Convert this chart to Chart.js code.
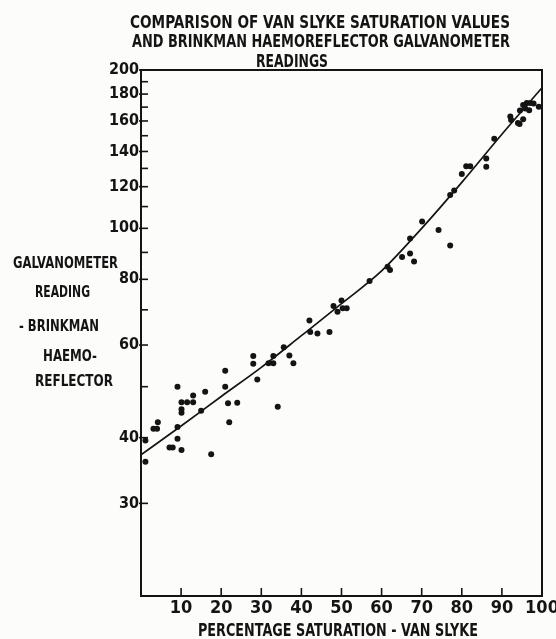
<!DOCTYPE html>
<html>
<head>
<meta charset="utf-8">
<script src="https://cdn.jsdelivr.net/npm/chart.js@4.4.1/dist/chart.umd.min.js"></script>
<style>
  html, body { margin: 0; padding: 0; background: #fcfcfa; }
  #wrap { width: 556px; height: 639px; position: relative; }
</style>
</head>
<body>
<div id="wrap"><canvas id="c" width="556" height="639"></canvas></div>
<script>
// Percentage saturation (Van Slyke) for each sample
const saturation = [
  1.1, 1.1, 3.1, 4.0, 4.2, 7.1, 7.9, 9.1, 10.1, 9.1, 9.1, 10.1, 11.5, 13.0, 13.0,
  10.1, 10.1, 15.0, 16.0, 17.5, 21.0, 21.0, 21.7, 22.0, 24.0, 28.0, 28.0, 29.0,
  31.8, 33.0, 33.0, 34.1, 35.6, 37.0, 38.0, 42.0, 42.2, 44.0, 47.0, 48.0, 49.0,
  50.0, 50.3, 51.3, 57.0, 61.5, 62.1, 65.1, 67.1, 68.1, 67.1, 70.1, 74.2, 77.1,
  77.1, 78.1, 80.0, 81.1, 82.1, 86.1, 86.1, 88.1, 92.1, 92.3, 94.0, 94.4, 95.3,
  94.5, 95.3, 96.2, 97.1, 97.9, 95.8, 96.8, 99.2
];
// Galvanometer reading (Brinkman haemoreflector) for the same samples
const galvanometer = [
  36.0, 39.5, 41.6, 41.6, 42.8, 38.3, 38.3, 39.8, 37.9, 41.9, 50.0, 46.7, 46.7, 46.7, 48.1,
  45.3, 44.6, 45.0, 48.9, 37.2, 53.6, 50.0, 46.5, 42.8, 46.6, 57.2, 55.3, 51.6,
  55.4, 55.4, 57.2, 45.8, 59.4, 57.3, 55.4, 66.8, 63.5, 63.1, 63.5, 71.2, 69.4,
  72.9, 70.5, 70.5, 79.4, 84.5, 83.3, 88.2, 89.6, 86.5, 95.7, 103.0, 99.3, 92.8,
  115.7, 118.0, 126.8, 131.3, 131.3, 135.7, 131.0, 148.1, 163.2, 160.7, 158.6, 157.9, 161.2,
  167.5, 171.6, 173.1, 173.1, 172.8, 169.0, 167.7, 170.3
];
// Fitted calibration curve
const curveSaturation = [0, 10, 20, 30, 40, 50, 60, 70, 80, 90, 100];
const curveReading = [37.1, 42.1, 47.9, 54.4, 62.5, 71.9, 83.0, 100.0, 122.3, 151.0, 185.0];

// Axis ticks
const xTicks = [10, 20, 30, 40, 50, 60, 70, 80, 90, 100];
const yTicks = [30, 40, 50, 60, 70, 80, 90, 100, 110, 120, 130, 140, 150, 160, 170, 180, 190, 200];
const yTickLabels = [30, 40, 60, 80, 100, 120, 140, 160, 180, 200];

const titleLines = [
  'COMPARISON OF VAN SLYKE SATURATION VALUES',
  'AND BRINKMAN HAEMOREFLECTOR GALVANOMETER',
  'READINGS'
];
const yTitleLines = ['GALVANOMETER', 'READING', '- BRINKMAN', 'HAEMO-', 'REFLECTOR'];
const xTitle = 'PERCENTAGE SATURATION - VAN SLYKE';

const INK = '#141414';
const LETTER = "'Liberation Sans Narrow', 'DejaVu Sans Condensed', 'Liberation Sans', sans-serif";

// Draws a line of lettering centred on cx, stretched or squeezed to a given width
function letter(ctx, text, cx, baseline, width, size) {
  ctx.save();
  ctx.font = 'bold ' + size + 'px ' + LETTER;
  ctx.textAlign = 'left';
  ctx.textBaseline = 'alphabetic';
  const w = ctx.measureText(text).width;
  const k = width / w;
  ctx.translate(cx - width / 2, baseline);
  ctx.scale(k, 1);
  ctx.fillStyle = INK;
  ctx.fillText(text, 0, 0);
  ctx.restore();
}

const frameAndLettering = {
  id: 'frameAndLettering',
  afterDraw(chart) {
    const { ctx, chartArea: a } = chart;
    const xs = chart.scales.x, ys = chart.scales.y;
    ctx.save();
    ctx.strokeStyle = INK;
    ctx.lineWidth = 2;
    // top and right edges of the frame
    ctx.beginPath();
    ctx.moveTo(a.left, a.top);
    ctx.lineTo(a.right, a.top);
    ctx.lineTo(a.right, a.bottom);
    ctx.stroke();
    // x ticks point up into the plot
    ctx.lineWidth = 1.6;
    xTicks.forEach(v => {
      const px = xs.getPixelForValue(v);
      ctx.beginPath();
      ctx.moveTo(px, a.bottom);
      ctx.lineTo(px, a.bottom - 8);
      ctx.stroke();
    });
    // y ticks: labelled ones cross the axis, the others sit inside
    yTicks.forEach(v => {
      const py = ys.getPixelForValue(v);
      const major = yTickLabels.includes(v);
      ctx.beginPath();
      ctx.moveTo(a.left - (major ? 2 : 0), py);
      ctx.lineTo(a.left + 7, py);
      ctx.stroke();
    });
    ctx.restore();

    letter(ctx, titleLines[0], 320, 28, 380, 18);
    letter(ctx, titleLines[1], 321, 47, 378, 18);
    letter(ctx, titleLines[2], 292, 67, 72, 18);

    letter(ctx, yTitleLines[0], 65.5, 268, 105, 15);
    letter(ctx, yTitleLines[1], 62.5, 297, 55, 15);
    letter(ctx, yTitleLines[2], 59, 331, 80, 15);
    letter(ctx, yTitleLines[3], 70, 361, 54, 15);
    letter(ctx, yTitleLines[4], 74, 386, 78, 15);

    letter(ctx, xTitle, 338, 636, 280, 18);
  }
};

const points = saturation.map((x, i) => ({ x: x, y: galvanometer[i] }));
const curve = curveSaturation.map((x, i) => ({ x: x, y: curveReading[i] }));

new Chart(document.getElementById('c'), {
  type: 'scatter',
  data: {
    datasets: [
      {
        type: 'line',
        data: curve,
        borderColor: INK,
        borderWidth: 1.7,
        pointRadius: 0,
        cubicInterpolationMode: 'monotone',
        fill: false
      },
      {
        data: points,
        backgroundColor: INK,
        borderColor: INK,
        borderWidth: 0,
        pointRadius: 3
      }
    ]
  },
  options: {
    responsive: false,
    animation: false,
    events: [],
    layout: { padding: { top: 70, left: 0, right: 14, bottom: 0 } },
    plugins: { legend: { display: false }, tooltip: { enabled: false }, title: { display: false } },
    scales: {
      x: {
        type: 'linear',
        min: 0,
        max: 100,
        afterFit: s => { s.height = 43; s.paddingLeft = 0; s.paddingRight = 0; },
        afterBuildTicks: s => { s.ticks = xTicks.map(v => ({ value: v })); },
        grid: { display: false, drawTicks: false },
        border: { display: true, color: INK, width: 2 },
        ticks: {
          color: INK,
          padding: 2,
          maxRotation: 0,
          font: { family: LETTER, weight: 'bold', size: 18 },
          callback: v => String(v)
        }
      },
      y: {
        type: 'logarithmic',
        min: 20,
        max: 200,
        afterFit: s => { s.width = 141; s.paddingTop = 0; s.paddingBottom = 0; },
        afterBuildTicks: s => { s.ticks = yTicks.map(v => ({ value: v })); },
        grid: { display: false, drawTicks: false },
        border: { display: true, color: INK, width: 2 },
        ticks: {
          color: INK,
          padding: 2,
          autoSkip: false,
          font: { family: LETTER, weight: 'bold', size: 16 },
          callback: v => (yTickLabels.includes(v) ? String(v) : '')
        }
      }
    }
  },
  plugins: [frameAndLettering]
});
</script>
</body>
</html>
